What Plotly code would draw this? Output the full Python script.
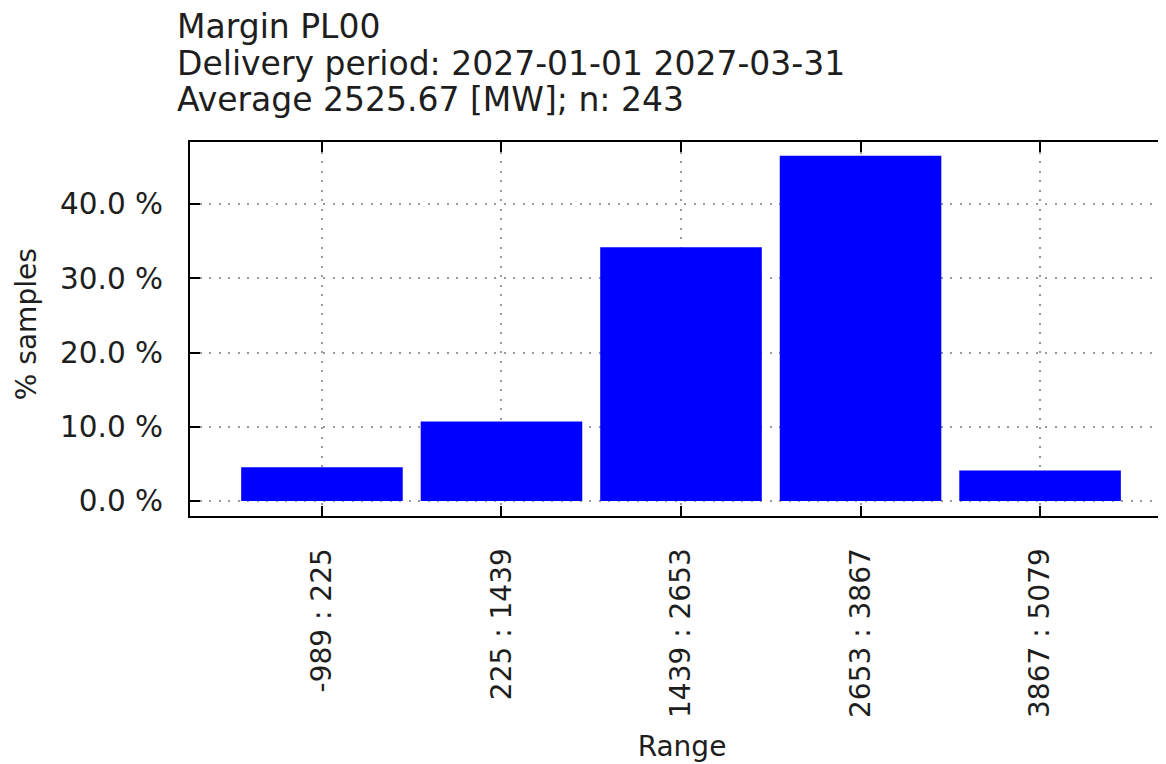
import plotly.graph_objects as go

# ---- data ----
range_labels = ["-989 : 225", "225 : 1439", "1439 : 2653", "2653 : 3867", "3867 : 5079"]
pct_samples = [4.53, 10.70, 34.16, 46.50, 4.12]
y_tick_values = [0, 10, 20, 30, 40]
y_tick_text = ["0.0 %", "10.0 %", "20.0 %", "30.0 %", "40.0 %"]
title_lines = [
    "Margin PL00",
    "Delivery period: 2027-01-01 2027-03-31",
    "Average 2525.67 [MW]; n: 243",
]
x_title = "Range"
y_title = "% samples"

# ---- layout geometry (figure pixels; page body adds an 8px offset) ----
W, H = 1166, 756
L, R, T, B = 182, 0, 134, 248.3
plot_h = H - T - B
plot_w = W - L - R

FONT = "DejaVu Sans"
TXT = "#1e1e1e"

fig = go.Figure()
fig.add_trace(go.Bar(
    x=range_labels,
    y=pct_samples,
    width=0.9,
    marker=dict(color="#0000ff", line=dict(width=0)),
    hovertemplate="%{x}<br>%{y:.1f} %<extra></extra>",
))

def py(pix):
    return (H - B - pix) / plot_h

def px(pix):
    return (pix - L) / plot_w

annotations = []
title_centres = [19, 56, 92]
for line, yc in zip(title_lines, title_centres):
    annotations.append(dict(
        text=line, xref="paper", yref="paper", x=px(168), y=py(yc),
        xanchor="left", yanchor="middle", showarrow=False, borderpad=0,
        font=dict(family=FONT, size=33, color=TXT),
    ))

# y-axis title placed as rotated text left of the tick labels
annotations.append(dict(
    text=y_title, xref="paper", yref="paper", x=px(18), y=py(316),
    xanchor="center", yanchor="middle", textangle=-90, showarrow=False,
    font=dict(family=FONT, size=28, color=TXT),
))

fig.update_layout(
    width=W, height=H,
    margin=dict(l=L, r=R, t=T, b=B, pad=0),
    paper_bgcolor="white", plot_bgcolor="white",
    showlegend=False,
    font=dict(family=FONT, size=28, color=TXT),
    annotations=annotations,
)

fig.update_xaxes(
    type="category",
    range=[-0.735, 4.746],
    showline=True, linecolor="#000000", linewidth=2, mirror="ticks",
    ticks="inside", ticklen=10, tickwidth=1.5, tickcolor="#000000",
    tickangle=-90, ticklabelstandoff=19,
    tickfont=dict(family=FONT, size=28, color=TXT),
    showgrid=True, gridcolor="#9a9a9a", gridwidth=1.6, griddash="2px,7.5px",
    zeroline=False,
    title=dict(text=x_title, font=dict(family=FONT, size=28, color=TXT), standoff=19),
    automargin=False,
)

fig.update_yaxes(
    range=[-2.02, 48.35],
    tickmode="array",
    tickvals=y_tick_values,
    ticktext=y_tick_text,
    showline=True, linecolor="#000000", linewidth=2, mirror="ticks",
    ticks="inside", ticklen=10, tickwidth=1.5, tickcolor="#000000",
    ticklabelstandoff=19,
    tickfont=dict(family=FONT, size=29.5, color=TXT),
    showgrid=True, gridcolor="#9a9a9a", gridwidth=1.6, griddash="2px,7.5px",
    zeroline=False,
    automargin=False,
)

fig.write_html("out.html")
